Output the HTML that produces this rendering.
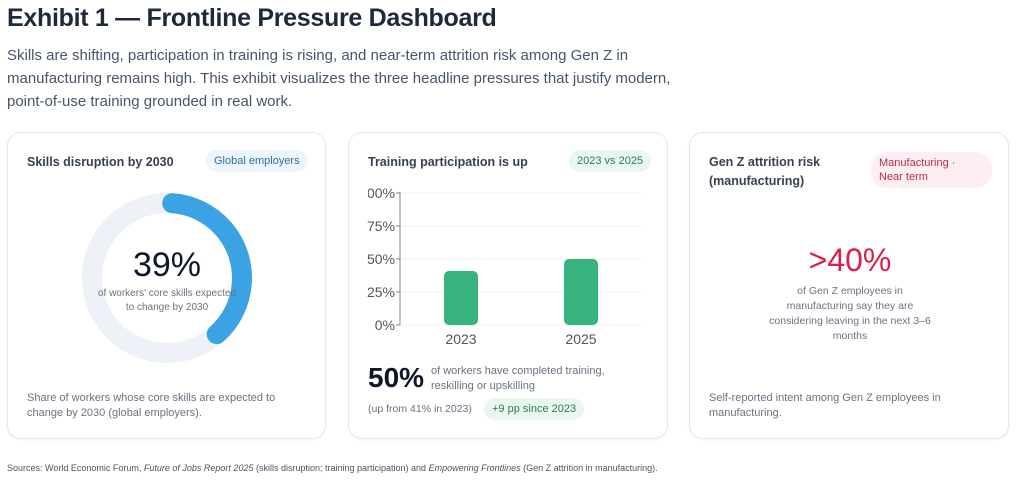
<!DOCTYPE html>
<html><head><meta charset="utf-8"><style>
*{box-sizing:border-box;margin:0;padding:0}
body{width:1024px;height:486px;background:#fff;font-family:"Liberation Sans",sans-serif;color:#1e293b;position:relative;overflow:hidden}
h1{position:absolute;left:7px;top:4px;font-size:25px;font-weight:bold;color:#1e293b;letter-spacing:-0.3px}
.intro{position:absolute;left:7px;top:44px;width:690px;font-size:15px;line-height:23px;color:#475569}
.card{position:absolute;top:132px;height:307px;border:1px solid #e5e7eb;border-radius:14px;background:#fff;box-shadow:0 1px 3px rgba(0,0,0,.05)}
.ct{position:absolute;left:19px;top:20px;font-size:12.5px;font-weight:bold;color:#374151;line-height:19px}
.pill{position:absolute;font-size:11px;border-radius:12px;padding:4px 8px;line-height:14px}
.foot{position:absolute;font-size:11px;color:#6b7280;line-height:15px}
.src{position:absolute;left:7px;top:463px;font-size:9px;color:#4b5563}
</style></head><body>
<h1>Exhibit 1 — Frontline Pressure Dashboard</h1>
<div class="intro">Skills are shifting, participation in training is rising, and near-term attrition risk among Gen Z in manufacturing remains high. This exhibit visualizes the three headline pressures that justify modern, point-of-use training grounded in real work.</div>

<div class="card" style="left:7px;width:319px">
<div class="ct">Skills disruption by 2030</div>
<div class="pill" style="left:198px;top:17px;background:#eef6fc;color:#2f6f9f">Global employers</div>
<svg style="position:absolute;left:0;top:0" width="319" height="307">
<circle cx="159" cy="145" r="75" fill="none" stroke="#eef2f8" stroke-width="20"/>
<circle cx="159" cy="145" r="75" fill="none" stroke="#3ba2e4" stroke-width="20" stroke-linecap="round" stroke-dasharray="176 500" transform="rotate(-86 159 145)"/>
<text x="159" y="143" text-anchor="middle" font-size="34" fill="#0f172a" font-family="Liberation Sans">39%</text>
<text x="159" y="163" text-anchor="middle" font-size="10" fill="#6b7280" font-family="Liberation Sans">of workers' core skills expected</text>
<text x="159" y="177" text-anchor="middle" font-size="10" fill="#6b7280" font-family="Liberation Sans">to change by 2030</text>
</svg>
<div class="foot" style="left:19px;top:258px;width:270px">Share of workers whose core skills are expected to change by 2030 (global employers).</div>
</div>

<div class="card" style="left:348px;width:320px">
<div class="ct">Training participation is up</div>
<div class="pill" style="left:220px;top:17px;background:#e8f8f0;color:#2f7a55">2023 vs 2025</div>
<svg style="position:absolute;left:-348px;top:-132px" width="1024" height="486" font-family="Liberation Sans">
<g stroke="#eef0f2" stroke-width="1">
<line x1="399" y1="192" x2="640" y2="192"/><line x1="399" y1="225" x2="640" y2="225"/><line x1="399" y1="258" x2="640" y2="258"/><line x1="399" y1="291" x2="640" y2="291"/><line x1="399" y1="324" x2="640" y2="324"/>
</g>
<line x1="399" y1="191" x2="399" y2="324" stroke="#888" stroke-width="1"/>
<g stroke="#888"><line x1="395" y1="192" x2="399" y2="192"/><line x1="395" y1="225" x2="399" y2="225"/><line x1="395" y1="258" x2="399" y2="258"/><line x1="395" y1="291" x2="399" y2="291"/><line x1="395" y1="324" x2="399" y2="324"/></g>
<g font-size="14" fill="#555" text-anchor="end">
<text x="394" y="197">100%</text><text x="394" y="230">75%</text><text x="394" y="263">50%</text><text x="394" y="296">25%</text><text x="394" y="329">0%</text>
</g>
<rect x="355" y="185" width="12" height="20" fill="#fff"/>
<rect x="443" y="270" width="34" height="54" rx="5" fill="#36b37e"/>
<rect x="563" y="258" width="34" height="66" rx="5" fill="#36b37e"/>
<text x="460" y="343" font-size="14" fill="#555" text-anchor="middle">2023</text>
<text x="580" y="343" font-size="14" fill="#555" text-anchor="middle">2025</text>
</svg>
<div style="position:absolute;left:19px;top:229px;font-size:28px;font-weight:bold;color:#0f172a">50%</div>
<div style="position:absolute;left:82px;top:231px;font-size:11px;color:#6b7280;line-height:15px">of workers have completed training,<br>reskilling or upskilling</div>
<div style="position:absolute;left:19px;top:270px;font-size:10.5px;color:#6b7280">(up from 41% in 2023)</div>
<div class="pill" style="left:135px;top:265px;background:#e8f8f0;color:#2f7a55">+9 pp since 2023</div>
</div>

<div class="card" style="left:689px;width:320px">
<div class="ct">Gen Z attrition risk<br>(manufacturing)</div>
<div class="pill" style="left:181px;top:19px;width:121px;background:#fdeff1;color:#b5304e;border-radius:16px">Manufacturing ·<br>Near term</div>
<div style="position:absolute;left:0;width:320px;top:109px;text-align:center;font-size:32px;color:#dc1f4a">&gt;40%</div>
<div style="position:absolute;left:70px;width:180px;top:151px;text-align:center;font-size:10.5px;color:#6b7280;line-height:15px">of Gen Z employees in<br>manufacturing say they are<br>considering leaving in the next 3–6<br>months</div>
<div class="foot" style="left:19px;top:258px;width:270px">Self-reported intent among Gen Z employees in manufacturing.</div>
</div>

<div class="src">Sources: World Economic Forum, <i>Future of Jobs Report 2025</i> (skills disruption; training participation) and <i>Empowering Frontlines</i> (Gen Z attrition in manufacturing).</div>
</body></html>
